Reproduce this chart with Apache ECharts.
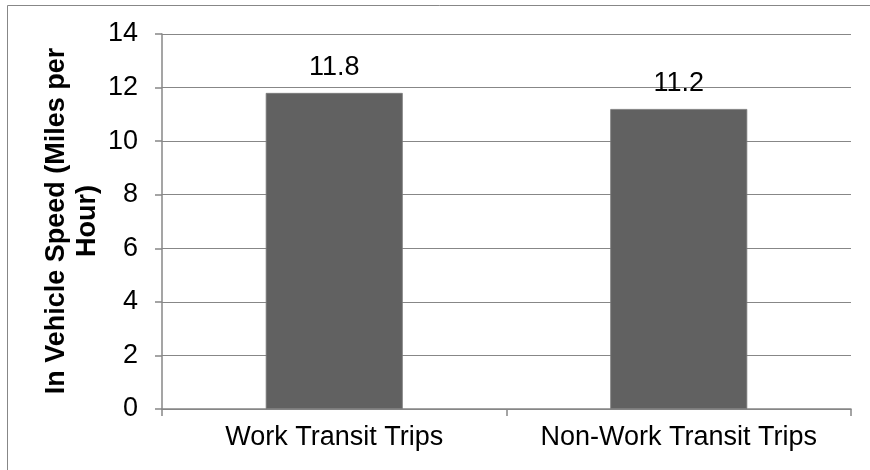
<!DOCTYPE html>
<html>
<head>
<meta charset="utf-8">
<script src="https://cdn.jsdelivr.net/npm/echarts@6/dist/echarts.min.js"></script>
<style>
html,body{margin:0;padding:0;background:#fff;}
#chart{width:870px;height:470px;}
</style>
</head>
<body>
<div id="chart"></div>
<script>
const categories = ['Work Transit Trips', 'Non-Work Transit Trips'];
const speeds = [11.8, 11.2];
const yTitle = 'In Vehicle Speed (Miles per\nHour)';

const chart = echarts.init(document.getElementById('chart'), null, {renderer: 'canvas'});
const gray = '#878787';
const font = 'Liberation Sans, Arial, sans-serif';
chart.setOption({
  animation: false,
  backgroundColor: '#fff',
  graphic: [{
    type: 'rect',
    shape: {x: 7.5, y: 5.5, width: 1000, height: 1000},
    style: {fill: 'none', stroke: gray, lineWidth: 1}
  }, {
    type: 'text',
    x: 72, y: 221,
    rotation: Math.PI / 2,
    style: {
      text: yTitle,
      fill: '#000',
      font: 'bold 27px Liberation Sans, Arial, sans-serif',
      lineHeight: 31,
      align: 'center',
      verticalAlign: 'middle'
    }
  }],
  grid: {left: 162, right: 19, top: 34, bottom: 61, containLabel: false},
  xAxis: {
    type: 'category',
    data: categories,
    axisLine: {lineStyle: {color: gray, width: 1.5}},
    axisTick: {show: true, length: 7, alignWithLabel: false, interval: 0, lineStyle: {color: gray, width: 1.5}},
    axisLabel: {color: '#000', fontSize: 27, fontFamily: font, margin: 15, interval: 0, hideOverlap: false}
  },
  yAxis: {
    type: 'value',
    min: 0, max: 14, interval: 2,
    axisLine: {show: true, lineStyle: {color: gray, width: 1.5}},
    axisTick: {show: true, length: 7, lineStyle: {color: gray, width: 1.5}},
    axisLabel: {color: '#000', fontSize: 27, fontFamily: font, margin: 24},
    splitLine: {show: true, lineStyle: {color: gray, width: 1.2}}
  },
  series: [{
    type: 'bar',
    data: speeds,
    barWidth: 137,
    itemStyle: {color: '#616161', borderColor: '#7a7a7a', borderWidth: 0.8},
    label: {
      show: true, position: 'top', distance: 12,
      color: '#000', fontSize: 27, fontFamily: font,
      formatter: p => p.value.toFixed(1)
    }
  }]
});
</script>
</body>
</html>
